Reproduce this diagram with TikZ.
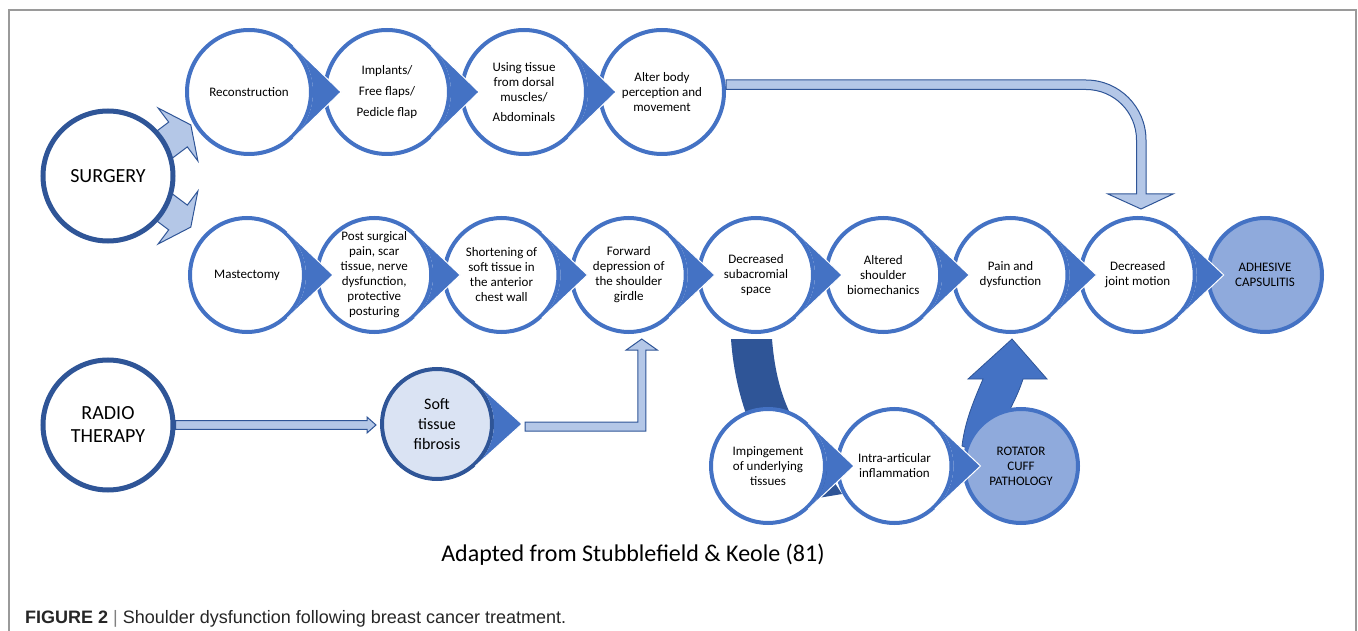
\documentclass[tikz,border=0pt]{standalone}
\usepackage{fontspec}
\setmainfont{Carlito}
\newfontfamily\capfont{Liberation Sans}
\usetikzlibrary{calc}

\definecolor{cblue}{HTML}{4472C4}
\definecolor{cdark}{HTML}{2F5597}
\definecolor{clight}{HTML}{B4C7E7}
\definecolor{cmid}{HTML}{8FAADC}
\definecolor{cpale}{HTML}{DAE3F3}
\definecolor{cframe}{HTML}{9A9A9A}

\pgfdeclarelayer{back}
\pgfsetlayers{back,main}

\tikzset{
  stepnode/.style={circle, draw=cblue, line width=4pt, fill=white, inner sep=0pt,
    align=center, text=black, font=\fontsize{13}{15}\selectfont},
  toprow/.style={stepnode, minimum size=124pt},
  lowrow/.style={stepnode, minimum size=114pt},
  endnode/.style={lowrow, fill=cmid},
  sourcenode/.style={circle, draw=cdark, line width=5pt, fill=white, inner sep=0pt,
    minimum size=130pt, align=center, text=black, font=\fontsize{20}{23}\selectfont},
  lightarrow/.style={fill=clight, draw=cdark, line width=1pt},
  kitefill/.style={fill=cblue},
}

% pointed right side of a step circle: node, outer radius, tip distance
\newcommand{\stepkite}[3]{%
  \pgfmathsetmacro{\ka}{acos(#2/#3)}%
  \fill[kitefill] ($(#1.center)+(\ka:#2)$) -- ($(#1.center)+(#3,0)$) -- ($(#1.center)+(-\ka:#2)$)
    arc[start angle=-\ka, end angle=\ka, radius=#2] -- cycle;
  \draw[white, line width=1pt] ($(#1.center)+(\ka:#2)$) -- ($(#1.center)+(#3,0)$) -- ($(#1.center)+(-\ka:#2)$);
}

\begin{document}
\begin{tikzpicture}[x=1pt, y=-1pt]
\useasboundingbox (0,0) rectangle (1358,631);
% frame
\draw[cframe, line width=1.5pt] (9,631) -- (9,10) -- (1356,10) -- (1356,631);

% sources
\node[sourcenode] (surgery) at (108,176) {SURGERY};
\node[sourcenode] (radio) at (108,425) {RADIO\\THERAPY};

% reconstruction row
\node[toprow] (recon) at (249,92) {Reconstruction};
\node[toprow] (implants) at (387,92) {Implants/\\[6pt]Free flaps/\\[6pt]Pedicle flap};
\node[toprow] (tissue) at (524,92) {Using tissue\\from dorsal\\muscles/\\[5pt]Abdominals};
\node[toprow] (alter) at (662,92) {Alter body\\perception and\\movement};

% mastectomy row
\node[lowrow] (mast) at (247,275) {Mastectomy};
\node[lowrow] (postsurg) at (374.25,275) {Post surgical\\pain, scar\\tissue, nerve\\dysfunction,\\protective\\posturing};
\node[lowrow] (shorten) at (501.5,275) {Shortening of\\soft tissue in\\the anterior\\chest wall};
\node[lowrow] (forward) at (628.75,275) {Forward\\depression of\\the shoulder\\girdle};
\node[lowrow] (subacr) at (756,275) {Decreased\\subacromial\\space};
\node[lowrow] (altered) at (883.25,275) {Altered\\shoulder\\biomechanics};
\node[lowrow] (pain) at (1010.5,275) {Pain and\\dysfunction};
\node[lowrow] (jointmot) at (1137.75,275) {Decreased\\joint motion};
\node[endnode] (adhesive) at (1265,275) {ADHESIVE\\CAPSULITIS};

% radiotherapy
\node[lowrow, minimum size=110pt, draw=cdark, fill=cpale, font=\fontsize{16}{20}\selectfont] (fibrosis) at (437,424) {Soft\\tissue\\fibrosis};

% impingement row
\node[lowrow] (imping) at (768,466) {Impingement\\of underlying\\tissues};
\node[lowrow] (intra) at (894.5,466) {Intra-articular\\inflammation};
\node[endnode] (rotator) at (1021,466) {ROTATOR\\CUFF\\PATHOLOGY};

% pointed sides
\foreach \n in {recon,implants,tissue} \stepkite{\n}{64}{92};
\foreach \n in {mast,postsurg,shorten,forward,subacr,altered,pain,jointmot,imping,intra} \stepkite{\n}{59}{86};
\stepkite{fibrosis}{57}{85};

% light arrows
\filldraw[lightarrow] ($(radio.east)+(0,-4.3)$) -- ($(fibrosis.west |- radio.east)+(-13,-4.3)$) -- ++(0,-3.7)
  -- ($(fibrosis.west |- radio.east)+(-4,0)$) -- ++(-9,8) -- ++(0,-3.7) -- ($(radio.east)+(0,4.3)$) -- cycle;

\coordinate (elbow) at ($(forward.south |- fibrosis.east)+(13,2.5)$);
\filldraw[lightarrow] ($(fibrosis.east)+(31,-2)$) -- ($(elbow)+(-4,-4.5)$) -- ($(elbow |- forward.south)+(-4,16)$)
  -- ++(-11.5,0) -- ($(elbow |- forward.south)+(0,5)$) -- ($(elbow |- forward.south)+(15.5,16)$) -- ++(-11.5,0)
  -- ($(elbow)+(4,4.5)$) -- ($(fibrosis.east)+(31,7)$) -- cycle;

\filldraw[lightarrow] ($(alter.east)+(0,-12)$) -- ($(jointmot.north |- alter.east)+(-51.75,-12)$)
  arc[start angle=-90, end angle=0, radius=60] -- ($(jointmot.north)+(8.25,-22)$) -- ($(jointmot.north)+(35.25,-22)$)
  -- ($(jointmot.north)+(3.25,-7)$) -- ($(jointmot.north)+(-29.75,-22)$) -- ($(jointmot.north)+(-1.25,-22)$)
  -- ($(jointmot.north)+(-1.25,-76)$) arc[start angle=0, end angle=-90, radius=50.5]
  -- ($(alter.east)+(0,-2.5)$) -- cycle;

% arrows behind the circles
\begin{pgfonlayer}{back}
\begin{scope}[shift={(surgery.center)}]
  \filldraw[lightarrow] (12.8,-17.8) -- (60.7,-53.9) -- (50.1,-68) -- (82.8,-51.1) -- (89.9,-15) -- (79.3,-29.1) -- (31.4,7) -- cycle;
\end{scope}
\begin{scope}[shift={(surgery.center)}, yscale=-1]
  \filldraw[lightarrow] (12.8,-17.8) -- (60.7,-53.9) -- (50.1,-68) -- (82.8,-51.1) -- (89.9,-15) -- (79.3,-29.1) -- (31.4,7) -- cycle;
\end{scope}
\begin{scope}[shift={(subacr.south)}]
  \fill[cdark] (-25,5) -- (16,5) .. controls (20,56) and (34,86) .. (56,114) -- (86,160) -- (50,166)
    .. controls (4,136) and (-21,66) .. (-25,5) -- cycle;
\end{scope}
\begin{scope}[shift={(pain.south)}]
  \filldraw[fill=cblue, draw=cdark, line width=0.8pt] (1.5,5) -- (36.5,45) -- (12.5,45)
    .. controls (6.5,64) and (-2.5,78) .. (-15.5,106) -- (-25.5,121) -- (-48.5,112)
    .. controls (-45.5,86) and (-35.5,64) .. (-27.5,45) -- (-42.5,45) -- cycle;
\end{scope}
\end{pgfonlayer}

% texts
\node[font=\fontsize{24}{28}\selectfont] (source) at (633,555) {Adapted from Stubblefield \& Keole (81)};
\node[anchor=base west, inner sep=0pt, font=\capfont\fontsize{18}{21}\selectfont, text=black!85] (caption) at (25,623)
  {\textbf{FIGURE 2} {\color{gray}|} Shoulder dysfunction following breast cancer treatment.};
\end{tikzpicture}
\end{document}
